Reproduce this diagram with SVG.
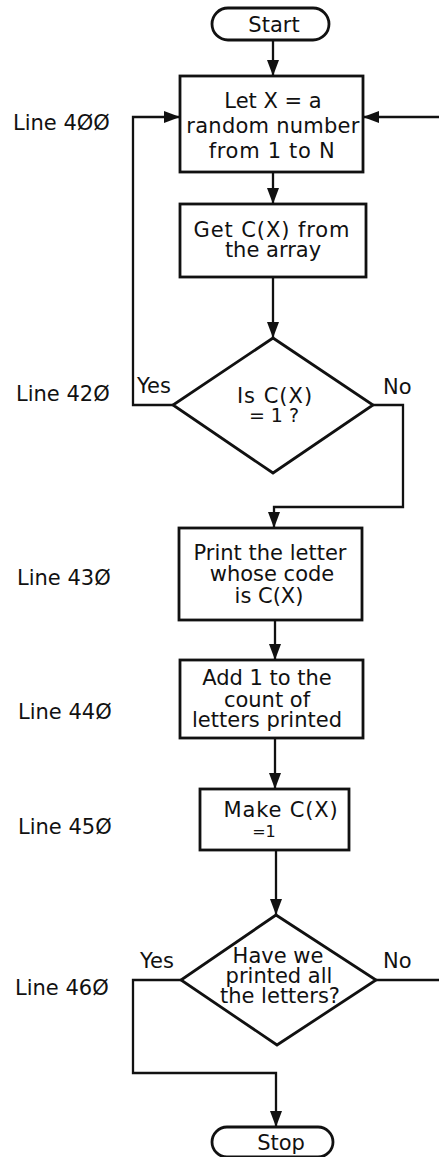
<svg xmlns="http://www.w3.org/2000/svg" width="439" height="1157" viewBox="0 0 439 1157">
  <style>
    .shape { fill: #fff; stroke: #111; stroke-width: 2.8; }
    .wire { fill: none; stroke: #111; stroke-width: 2.3; }
    .t { font-family: "DejaVu Sans", "Liberation Sans", sans-serif; font-size: 21px; fill: #111; text-anchor: middle; }
    .lbl { font-family: "DejaVu Sans", "Liberation Sans", sans-serif; font-size: 21px; fill: #111; }
  </style>
  <defs>
    <marker id="arrow" markerUnits="userSpaceOnUse" markerWidth="16" markerHeight="12" refX="16" refY="6" orient="auto">
      <path d="M0,0 L16,6 L0,12 z" fill="#111"/>
    </marker>
  </defs>
  <rect width="439" height="1157" fill="#fff"/>

  <!-- connectors -->
  <g id="connectors">
    <path class="wire" d="M273,40 V76" marker-end="url(#arrow)"/>
    <path class="wire" d="M273,172 V204" marker-end="url(#arrow)"/>
    <path class="wire" d="M273,277 V338" marker-end="url(#arrow)"/>
    <path class="wire" d="M173,405 H133 V117 H180" marker-end="url(#arrow)"/>
    <path class="wire" d="M373,405 H403 V507 H274 V528" marker-end="url(#arrow)"/>
    <path class="wire" d="M275,620 V660" marker-end="url(#arrow)"/>
    <path class="wire" d="M275,738 V789" marker-end="url(#arrow)"/>
    <path class="wire" d="M276,850 V915" marker-end="url(#arrow)"/>
    <path class="wire" d="M181,980 H133 V1073 H276 V1127" marker-end="url(#arrow)"/>
    <path class="wire" d="M376,980 H439"/>
    <path class="wire" d="M439,117 H363" marker-end="url(#arrow)"/>
    <text class="lbl" x="137" y="393">Yes</text>
    <text class="lbl" x="383" y="394">No</text>
    <text class="lbl" x="140" y="968">Yes</text>
    <text class="lbl" x="383" y="968">No</text>
  </g>

  <!-- program line numbers -->
  <g id="line-numbers">
    <text class="lbl" x="13" y="130">Line 4ØØ</text>
    <text class="lbl" x="16" y="401">Line 42Ø</text>
    <text class="lbl" x="17" y="585">Line 43Ø</text>
    <text class="lbl" x="18" y="719">Line 44Ø</text>
    <text class="lbl" x="18" y="834">Line 45Ø</text>
    <text class="lbl" x="15" y="995">Line 46Ø</text>
  </g>

  <g id="start">
    <rect class="shape" x="212" y="8" width="117" height="32" rx="16"/>
    <text class="t" x="274" y="32">Start</text>
  </g>

  <g id="pick-random">
    <rect class="shape" x="180" y="76" width="183" height="96"/>
    <text class="t"><tspan x="273" y="108">Let X = a</tspan><tspan x="273" y="133" style="letter-spacing:0.25px">random number</tspan><tspan x="272" y="158" style="letter-spacing:0.7px">from 1 to N</tspan></text>
  </g>

  <g id="get-code">
    <rect class="shape" x="180" y="204" width="186" height="73"/>
    <text class="t"><tspan x="272" y="237" style="letter-spacing:0.9px">Get C(X) from</tspan><tspan x="273" y="257">the array</tspan></text>
  </g>

  <g id="check-used">
    <polygon class="shape" points="273,338 373,405 273,473 173,405"/>
    <text class="t"><tspan x="275" y="403" style="letter-spacing:1px">Is C(X)</tspan><tspan x="274" y="422" style="font-size:19px">= 1 ?</tspan></text>
  </g>

  <g id="print-letter">
    <rect class="shape" x="179" y="528" width="183" height="92"/>
    <text class="t"><tspan x="270" y="560">Print the letter</tspan><tspan x="272" y="581">whose code</tspan><tspan x="269" y="603">is C(X)</tspan></text>
  </g>

  <g id="count">
    <rect class="shape" x="180" y="660" width="183" height="78"/>
    <text class="t"><tspan x="267" y="685">Add 1 to the</tspan><tspan x="267" y="707">count of</tspan><tspan x="267" y="727">letters printed</tspan></text>
  </g>

  <g id="mark-used">
    <rect class="shape" x="200" y="789" width="149" height="61"/>
    <text class="t"><tspan x="281" y="817" style="letter-spacing:0.85px">Make C(X)</tspan><tspan x="264" y="837" style="font-size:16px">=1</tspan></text>
  </g>

  <g id="check-done">
    <polygon class="shape" points="276,915 376,980 277,1045 181,980"/>
    <text class="t"><tspan x="278" y="963">Have we</tspan><tspan x="279" y="983">printed all</tspan><tspan x="280" y="1003">the letters?</tspan></text>
  </g>

  <g id="stop">
    <rect class="shape" x="212" y="1127" width="121" height="30" rx="15"/>
    <text class="t" x="281" y="1150">Stop</text>
  </g>
</svg>
